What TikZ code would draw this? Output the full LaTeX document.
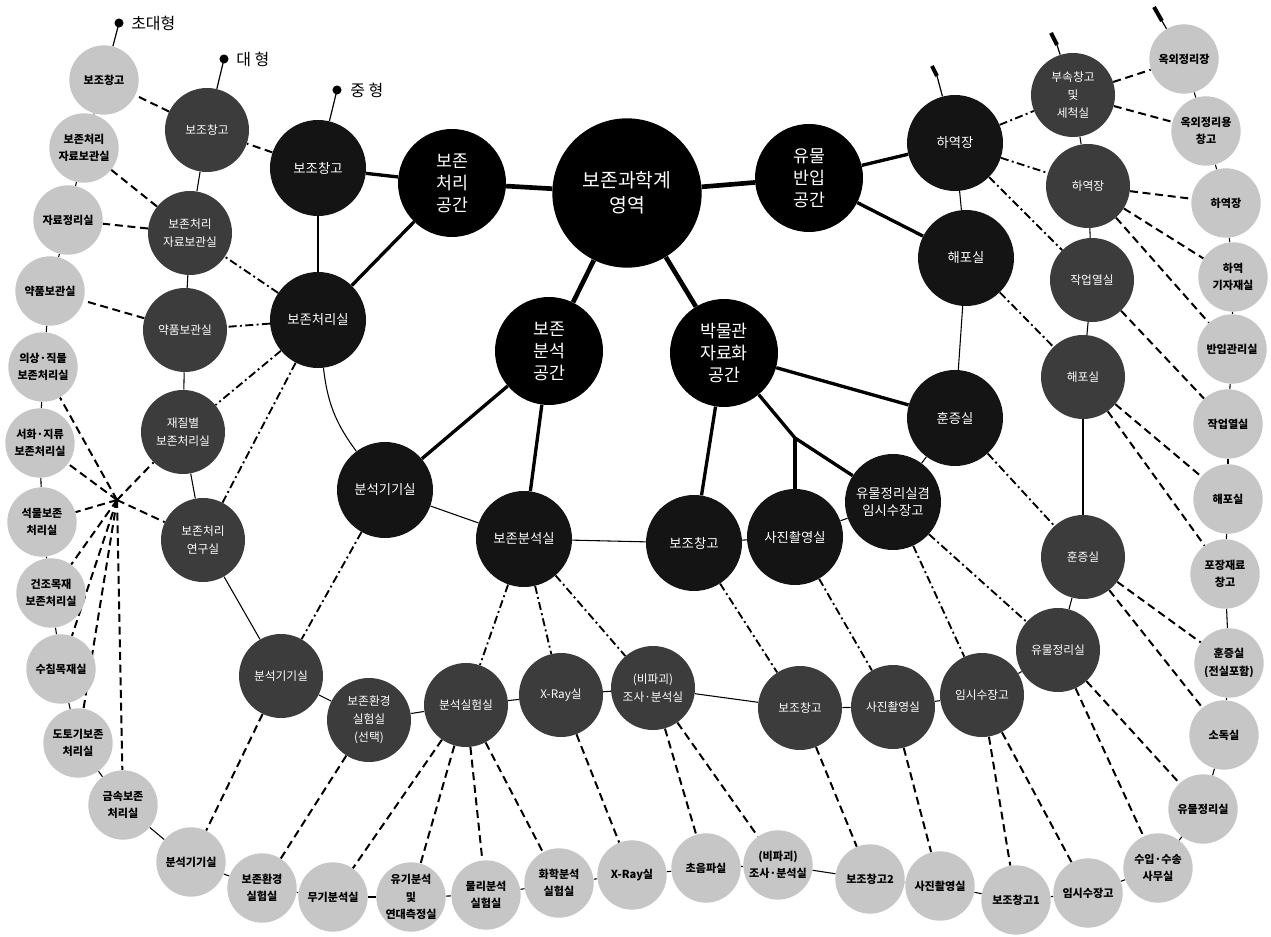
\documentclass[tikz,border=0pt]{standalone}
\usepackage{fontspec}
\newfontfamily\kr{Noto Sans CJK KR}
\usetikzlibrary{backgrounds}
\definecolor{medc}{HTML}{141414}
\definecolor{largec}{HTML}{3C3C3C}
\definecolor{lightc}{HTML}{C6C6C6}
\begin{document}
\begin{tikzpicture}[x=0.75pt,y=-0.75pt,
  every node/.style={inner sep=0pt, align=center},
  corec/.style={circle, fill=black, text=white, minimum size=112pt, font=\kr\fontsize{14.5}{19}\selectfont},
  spacec/.style={circle, fill=black, text=white, minimum size=81pt, font=\kr\fontsize{13}{16.5}\selectfont},
  medn/.style={circle, fill=medc, text=white, minimum size=72pt, font=\kr\fontsize{10}{12.5}\selectfont},
  largen/.style={circle, fill=largec, text=white, minimum size=63pt, font=\kr\fontsize{8.8}{13.5}\selectfont},
  lightn/.style={circle, fill=lightc, text=black, minimum size=52pt, font=\kr\bfseries\fontsize{8.3}{13}\selectfont},
  corel/.style={line width=3.5pt},
  spacel/.style={line width=2.5pt},
  ringl/.style={line width=0.8pt},
  dl/.style={line width=1.5pt, dash pattern=on 6pt off 3.5pt},
  ddl/.style={line width=1.4pt, dash pattern=on 6pt off 2.5pt on 1.5pt off 2.5pt},
  pinl/.style={line width=0.9pt},
  tickl/.style={line width=3pt},
  pinlabel/.style={font=\kr\fontsize{12}{14}\selectfont, anchor=west},
]
\useasboundingbox (0,0) rectangle (1271,937);

% core
\node[corec] (C) at (627,193) {보존과학계\\영역};
\node[spacec] (S1) at (452,183) {보존\\처리\\공간};
\node[spacec] (S2) at (809,178) {유물\\반입\\공간};
\node[spacec] (S3) at (549,351) {보존\\분석\\공간};
\node[spacec] (S4) at (724,353) {박물관\\자료화\\공간};

% medium
\node[medn] (m1) at (318,168) {보조창고};
\node[medn] (m2) at (318,320) {보존처리실};
\node[medn] (m3) at (385,490) {분석기기실};
\node[medn] (m4) at (524,539) {보존분석실};
\node[medn] (m5) at (694,543) {보조창고};
\node[medn] (m6) at (795,537) {사진촬영실};
\node[medn] (m7) at (893,502) {유물정리실겸\\임시수장고};
\node[medn] (m8) at (955,418) {훈증실};
\node[medn] (m9) at (966,258) {해포실};
\node[medn] (m10) at (955,143) {하역장};

% large
\node[largen] (g1) at (207,130) {보조창고};
\node[largen] (g2) at (190,233) {보존처리\\자료보관실};
\node[largen] (g3) at (185,330) {약품보관실};
\node[largen] (g4) at (183,432) {재질별\\보존처리실};
\node[largen] (g5) at (203,540) {보존처리\\연구실};
\node[largen] (g6) at (281,676) {분석기기실};
\node[largen] (g7) at (369,720) {보존환경\\실험실\\(선택)};
\node[largen] (g8) at (466,705) {분석실험실};
\node[largen] (g9) at (561,695) {X-Ray실};
\node[largen] (g10) at (653,688) {(비파괴)\\조사·분석실};
\node[largen] (g11) at (800,708) {보조창고};
\node[largen] (g12) at (893,707) {사진촬영실};
\node[largen] (g13) at (982,695) {임시수장고};
\node[largen] (g14) at (1058,650) {유물정리실};
\node[largen] (g15) at (1083,557) {훈증실};
\node[largen] (g16) at (1083,377) {해포실};
\node[largen] (g17) at (1092,280) {작업열실};
\node[largen] (g18) at (1088,186) {하역장};
\node[largen] (g19) at (1073,95) {부속창고\\및\\세척실};

% light
\node[lightn] (l1) at (104,80) {보조창고};
\node[lightn] (l2) at (84,148) {보존처리\\자료보관실};
\node[lightn] (l3) at (68,220) {자료정리실};
\node[lightn] (l4) at (50,291) {약품보관실};
\node[lightn] (l5) at (43,367) {의상·직물\\보존처리실};
\node[lightn] (l6) at (40,443) {서화·지류\\보존처리실};
\node[lightn] (l7) at (42,522) {석물보존\\처리실};
\node[lightn] (l8) at (51,593) {건조목재\\보존처리실};
\node[lightn] (l9) at (61,669) {수침목재실};
\node[lightn] (l10) at (78,743) {도토기보존\\처리실};
\node[lightn] (l11) at (123,805) {금속보존\\처리실};
\node[lightn] (b1) at (191,862) {분석기기실};
\node[lightn] (b2) at (262,888) {보존환경\\실험실};
\node[lightn] (b3) at (333,897) {무기분석실};
\node[lightn] (b4) at (411,897) {유기분석\\및\\연대측정실};
\node[lightn] (b5) at (486,895) {물리분석\\실험실};
\node[lightn] (b6) at (559,883) {화학분석\\실험실};
\node[lightn] (b7) at (632,875) {X-Ray실};
\node[lightn] (b8) at (706,868) {초음파실};
\node[lightn] (b9) at (778,865) {(비파괴)\\조사·분석실};
\node[lightn] (b10) at (870,879) {보조창고2};
\node[lightn] (b11) at (940,886) {사진촬영실};
\node[lightn] (b12) at (1016,900) {보조창고1};
\node[lightn] (b13) at (1088,893) {임시수장고};
\node[lightn] (b14) at (1158,868) {수입·수송\\사무실};
\node[lightn] (r1) at (1203,809) {유물정리실};
\node[lightn] (r2) at (1224,735) {소독실};
\node[lightn] (r3) at (1229,663) {훈증실\\(전실포함)};
\node[lightn] (r4) at (1225,574) {포장재료\\창고};
\node[lightn] (r5) at (1228,499) {해포실};
\node[lightn] (r6) at (1228,424) {작업열실};
\node[lightn] (r7) at (1232,349) {반입관리실};
\node[lightn] (r8) at (1233,277) {하역\\기자재실};
\node[lightn] (r9) at (1226,203) {하역장};
\node[lightn] (r10) at (1206,131) {옥외정리용\\창고};
\node[lightn] (r11) at (1184,59) {옥외정리장};

% helper coordinates
\coordinate (hub) at (117,500);
\coordinate (j1) at (795,438);
\coordinate (p1) at (119,23);
\coordinate (p2) at (224,59);
\coordinate (p3) at (337,90);
\coordinate (p4) at (937,76);
\coordinate (p4e) at (932,66);
\coordinate (p5) at (1057,45);
\coordinate (p5e) at (1051,33);
\coordinate (p6) at (1162,21);
\coordinate (p6e) at (1154,7);

% pins
\fill (p1) circle[radius=3.4pt];
\fill (p2) circle[radius=3.4pt];
\fill (p3) circle[radius=3.4pt];
\node[pinlabel] (t1) at (131,23) {초대형};
\node[pinlabel] (t2) at (236,59) {대 형};
\node[pinlabel] (t3) at (350,90) {중 형};

\begin{scope}[on background layer]
\draw[pinl] (l1) -- (p1);
\draw[pinl] (g1) -- (p2);
\draw[pinl] (m1) -- (p3);
\draw[pinl] (m10) -- (p4); \draw[tickl] (p4) -- (p4e);
\draw[pinl] (g19) -- (p5); \draw[tickl] (p5) -- (p5e);
\draw[pinl] (r11) -- (p6); \draw[tickl] (p6) -- (p6e);

% core lines
\draw[corel] (C) -- (S1);
\draw[corel] (C) -- (S2);
\draw[corel] (C) -- (S3);
\draw[corel] (C) -- (S4);

% space to medium
\draw[spacel] (S1) -- (m1);
\draw[spacel] (S1) -- (m2);
\draw[spacel] (S2) -- (m10);
\draw[spacel] (S2) -- (m9);
\draw[spacel] (S3) -- (m3);
\draw[spacel] (S3) -- (m4);
\draw[spacel] (S4) -- (m5);
\draw[spacel] (S4) -- (m8);
\draw[spacel] (S4) -- (j1) -- (m7);
\draw[spacel] (j1) -- (m6);

% rings
\draw[ringl] (m1) -- (m2);
\draw[ringl] (m2) to[bend right=15] (m3);
\draw[ringl] (m3) -- (m4);
\draw[ringl] (m4) -- (m5);
\draw[ringl] (m5) -- (m6);
\draw[ringl] (m6) -- (m7);
\draw[ringl] (m7) -- (m8);
\draw[ringl] (m8) -- (m9);
\draw[ringl] (m9) -- (m10);

\foreach \a/\b in {g1/g2,g2/g3,g3/g4,g4/g5,g5/g6,g6/g7,g7/g8,g8/g9,g9/g10,g10/g11,g11/g12,g12/g13,g13/g14,g14/g15,g15/g16,g16/g17,g17/g18,g18/g19}
  \draw[ringl] (\a) -- (\b);

\foreach \a/\b in {l1/l2,l2/l3,l3/l4,l4/l5,l5/l6,l6/l7,l7/l8,l8/l9,l9/l10,l10/l11,l11/b1,b1/b2,b2/b3,b3/b4,b4/b5,b5/b6,b6/b7,b7/b8,b8/b9,b9/b10,b10/b11,b11/b12,b12/b13,b13/b14,b14/r1,r1/r2,r2/r3,r3/r4,r4/r5,r5/r6,r6/r7,r7/r8,r8/r9,r9/r10,r10/r11}
  \draw[ringl] (\a) -- (\b);

% medium to large
\draw[dl] (m1) -- (g1);
\foreach \a/\b in {m2/g2,m2/g3,m2/g4,m2/g5,m3/g6,m4/g8,m4/g9,m4/g10,m5/g11,m6/g12,m7/g13,m7/g14,m8/g15,m9/g16,m10/g19,m10/g18,m10/g17}
  \draw[ddl] (\a) -- (\b);

% large to light
\foreach \a/\b in {g1/l1,g2/l2,g2/l3,g3/l4,g6/b1,g7/b2,g8/b3,g8/b4,g8/b5,g8/b6,g9/b7,g10/b8,g10/b9,g11/b10,g12/b11,g13/b12,g13/b13,g14/b14,g14/r1,g15/r2,g15/r3,g16/r4,g16/r5,g17/r6,g18/r7,g18/r8,g18/r9,g19/r10,g19/r11}
  \draw[dl] (\a) -- (\b);

% hub
\foreach \a in {l5,l6,l7,l8,l9,l10,l11,g4,g5}
  \draw[dl] (hub) -- (\a);
\end{scope}
\end{tikzpicture}
\end{document}
